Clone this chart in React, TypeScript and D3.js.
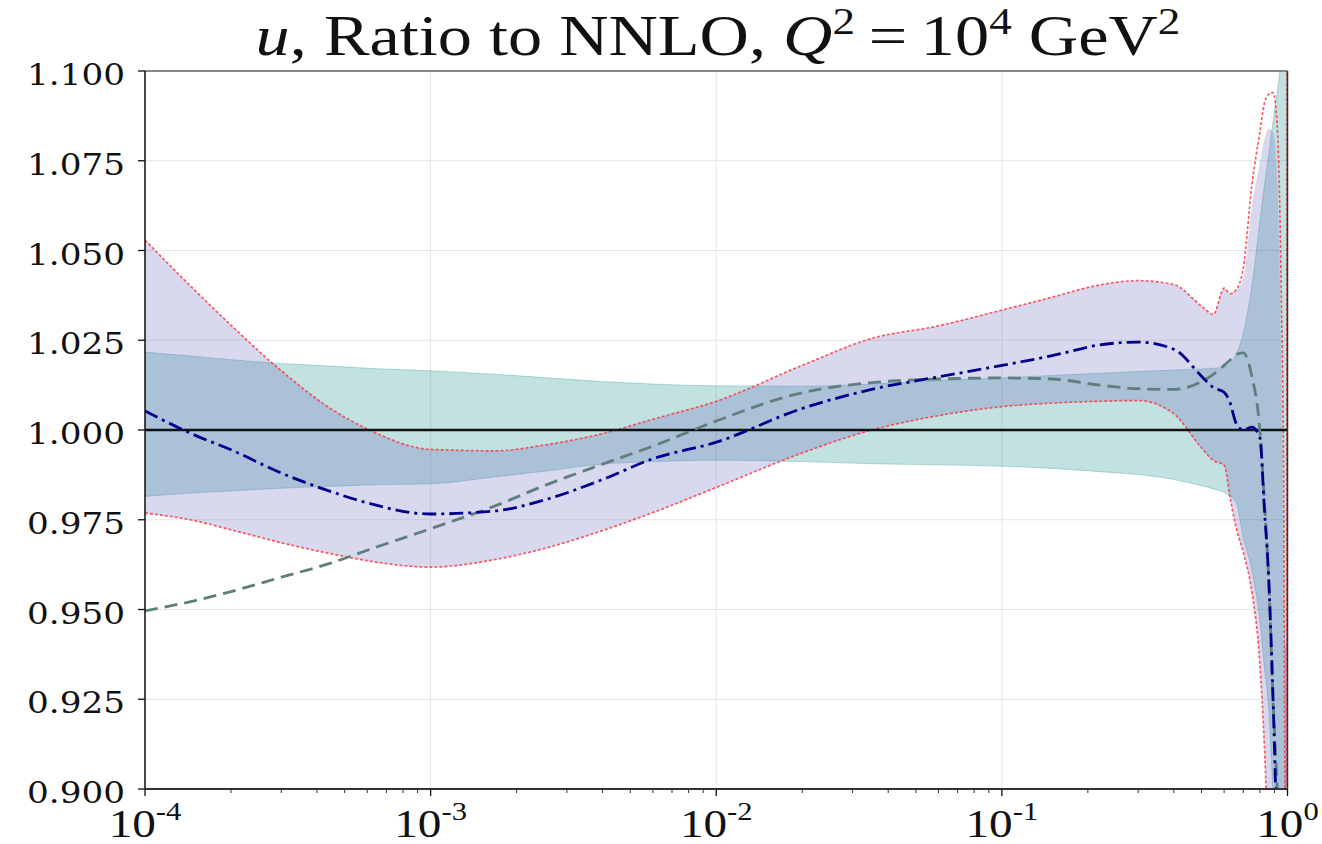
import React from 'react';
import * as d3 from 'd3';

// x grid (momentum fraction)
const xs = [1e-4, 1.5e-4, 2e-4, 3e-4, 4.5e-4, 6e-4, 1e-3, 1.7e-3, 2.5e-3, 4e-3, 6e-3, 1e-2, 2e-2, 3.5e-2, 6e-2, 0.1, 0.15, 0.22, 0.3, 0.4, 0.5, 0.55, 0.6, 0.63, 0.66, 0.7, 0.75, 0.8, 0.83, 0.86, 0.89, 0.92, 0.95, 0.97, 0.98, 0.99, 0.997];

// teal band
const tealHi = [1.0217, 1.0205, 1.0196, 1.0185, 1.0178, 1.0172, 1.0165, 1.0155, 1.0146, 1.0135, 1.0128, 1.0123, 1.0122, 1.0128, 1.0138, 1.0145, 1.0152, 1.0158, 1.0163, 1.0167, 1.017, 1.0172, 1.0175, 1.0185, 1.021, 1.027, 1.04, 1.058, 1.068, 1.077, 1.086, 1.094, 1.104, 1.115, 1.125, 1.15, 1.2];
const tealLo = [0.9815, 0.9825, 0.983, 0.9838, 0.9843, 0.9847, 0.985, 0.987, 0.9885, 0.9905, 0.9912, 0.9916, 0.9912, 0.9906, 0.9903, 0.9899, 0.9893, 0.9884, 0.9876, 0.9862, 0.9845, 0.9836, 0.9826, 0.9815, 0.98, 0.97, 0.961, 0.947, 0.934, 0.922, 0.898, 0.87, 0.85, 0.83, 0.82, 0.8, 0.8];

// lavender band
const lavHi = [1.0529, 1.0388, 1.0292, 1.0165, 1.0058, 1.0003, 0.9946, 0.9942, 0.9958, 0.999, 1.003, 1.008, 1.018, 1.0255, 1.029, 1.0334, 1.037, 1.0404, 1.0416, 1.0405, 1.0345, 1.0322, 1.0395, 1.038, 1.039, 1.042, 1.062, 1.0745, 1.081, 1.084, 1.083, 1.07, 1.02, 0.96, 0.94, 0.94, 0.94];
const lavLo = [0.9769, 0.9747, 0.9722, 0.9686, 0.9655, 0.9636, 0.9618, 0.964, 0.967, 0.972, 0.977, 0.984, 0.9936, 1.0, 1.004, 1.0065, 1.0075, 1.008, 1.0082, 1.0045, 0.995, 0.9915, 0.9902, 0.981, 0.973, 0.966, 0.955, 0.935, 0.912, 0.88, 0.85, 0.82, 0.8, 0.8, 0.8, 0.8, 0.8];

// red dotted envelope
const redHi = [1.0529, 1.0388, 1.0292, 1.0165, 1.0058, 1.0003, 0.9946, 0.9942, 0.9958, 0.999, 1.003, 1.008, 1.018, 1.0255, 1.029, 1.0334, 1.037, 1.0404, 1.0416, 1.0405, 1.0345, 1.0322, 1.0395, 1.038, 1.039, 1.045, 1.068, 1.083, 1.091, 1.0935, 1.094, 1.085, 1.04, 0.98, 0.9, 0.85, 0.85];
const redLo = [0.9769, 0.9747, 0.9722, 0.9686, 0.9655, 0.9636, 0.9618, 0.964, 0.967, 0.972, 0.977, 0.984, 0.9936, 1.0, 1.004, 1.0065, 1.0075, 1.008, 1.0082, 1.0045, 0.995, 0.9915, 0.9902, 0.981, 0.973, 0.966, 0.955, 0.935, 0.912, 0.88, 0.85, 0.82, 0.8, 0.8, 0.8, 0.8, 1.2];

// central curves
const dashDot = [1.0053, 0.9985, 0.9945, 0.988, 0.9828, 0.9797, 0.9766, 0.9775, 0.9805, 0.9862, 0.992, 0.9966, 1.006, 1.0113, 1.0148, 1.018, 1.0207, 1.0237, 1.0245, 1.0225, 1.015, 1.0118, 1.0105, 1.0075, 1.002, 1.0, 1.0008, 0.998, 0.978, 0.958, 0.925, 0.885, 0.85, 0.82, 0.8, 0.8, 0.8];
const dashed = [0.9496, 0.9525, 0.955, 0.959, 0.963, 0.9665, 0.9725, 0.979, 0.9845, 0.9905, 0.9955, 1.0025, 1.0104, 1.0132, 1.0142, 1.0145, 1.0142, 1.0125, 1.0115, 1.0113, 1.0135, 1.0155, 1.018, 1.0195, 1.021, 1.0215, 1.015, 1.0, 0.98, 0.958, 0.925, 0.9, 0.87, 0.85, 0.82, 0.8, 0.8];

const yTicks = [0.9, 0.925, 0.95, 0.975, 1.0, 1.025, 1.05, 1.075, 1.1];
const xTickExps = [-4, -3, -2, -1, 0];

const W = 1322, H = 844;
const L = 145, R = 1287.5, T = 71, B = 789;
const SX = 1.18;

export default function App() {
  const x = d3.scaleLog().domain([1e-4, 1]).range([L, R]);
  const y = d3.scaleLinear().domain([0.9, 1.1]).range([B, T]);

  const band = (lo: number[], hi: number[]) =>
    d3.area<number>()
      .x((d) => x(d))
      .y0((_, i) => y(lo[i]))
      .y1((_, i) => y(hi[i]))
      .curve(d3.curveMonotoneX)(xs) || '';
  const line = (v: number[]) =>
    d3.line<number>()
      .x((d) => x(d))
      .y((_, i) => y(v[i]))
      .curve(d3.curveMonotoneX)(xs) || '';

  const minor: number[] = [];
  for (let e = -4; e < 0; e++) for (let k = 2; k <= 9; k++) minor.push(k * Math.pow(10, e));

  return (
    <svg width={W} height={H} style={{ position: 'absolute', left: 0, top: 0, background: '#fff' }}>
      <defs>
        <clipPath id="plot">
          <rect x={L} y={T} width={R - L} height={B - T} />
        </clipPath>
      </defs>
      <rect x={0} y={0} width={W} height={H} fill="#fff" />
      {/* grid */}
      <g stroke="#e6e6e6" strokeWidth={1}>
        {xTickExps.map((e) => (
          <line key={'gx' + e} x1={x(Math.pow(10, e))} x2={x(Math.pow(10, e))} y1={T} y2={B} />
        ))}
        {yTicks.map((t) => (
          <line key={'gy' + t} x1={L} x2={R} y1={y(t)} y2={y(t)} />
        ))}
      </g>
      <g clipPath="url(#plot)">
        <path d={band(tealLo, tealHi)} fill="rgba(0,128,128,0.24)" stroke="rgba(0,128,128,0.25)" strokeWidth={1} />
        <path d={band(lavLo, lavHi)} fill="rgba(100,100,190,0.25)" />
        <path d={line(redHi)} fill="none" stroke="rgba(255,50,60,0.8)" strokeWidth={1.7} strokeDasharray="3,2" />
        <path d={line(redLo)} fill="none" stroke="rgba(255,50,60,0.8)" strokeWidth={1.7} strokeDasharray="3,2" />
        <line x1={L} x2={R} y1={y(1)} y2={y(1)} stroke="#111" strokeWidth={2.4} />
        <path d={line(dashed)} fill="none" stroke="#5f7f7c" strokeWidth={2.8} strokeDasharray="13,7" />
        <path d={line(dashDot)} fill="none" stroke="#00008b" strokeWidth={2.8} strokeDasharray="14,5,3,5" />
      </g>
      {/* spines */}
      <line x1={L} x2={R} y1={T} y2={T} stroke="#888" strokeWidth={2} />
      <line x1={R} x2={R} y1={T} y2={B} stroke="#333" strokeWidth={1.5} />
      <line x1={L} x2={L} y1={T} y2={B} stroke="#111" strokeWidth={1.5} />
      <line x1={L} x2={R} y1={B} y2={B} stroke="#333" strokeWidth={2} />
      {/* y ticks */}
      {yTicks.map((t) => (
        <g key={'yt' + t}>
          <line x1={L - 7} x2={L} y1={y(t)} y2={y(t)} stroke="#111" strokeWidth={1.3} />
          <text
            transform={`translate(${125},${y(t) + 14}) scale(${SX},1)`}
            textAnchor="end"
            fontFamily="'DejaVu Serif', serif"
            fontSize={29}
            fill="#111"
          >
            {t.toFixed(3)}
          </text>
        </g>
      ))}
      {/* x ticks */}
      {minor.map((m) => (
        <line key={'mx' + m} x1={x(m)} x2={x(m)} y1={B} y2={B + 4} stroke="#333" strokeWidth={1} />
      ))}
      {xTickExps.map((e) => (
        <g key={'xt' + e}>
          <line x1={x(Math.pow(10, e))} x2={x(Math.pow(10, e))} y1={B} y2={B + 7} stroke="#111" strokeWidth={1.3} />
          <text
            transform={`translate(${x(Math.pow(10, e))},${837}) scale(${SX},1)`}
            textAnchor="middle"
            fontFamily="'Liberation Serif', serif"
            fontSize={40}
            fill="#111"
          >
            10<tspan fontSize={26} dy={-17}>{e === 0 ? '0' : '-' + Math.abs(e)}</tspan>
          </text>
        </g>
      ))}
      {/* title */}
      <text
        transform={`translate(${718},${55}) scale(1.22,1)`}
        textAnchor="middle"
        fontFamily="'Liberation Serif', serif"
        fontSize={56}
        fill="#111"
      >
        <tspan fontStyle="italic">u</tspan>
        <tspan>, Ratio to NNLO, </tspan>
        <tspan fontStyle="italic">Q</tspan>
        <tspan fontSize={37} dy={-21}>2</tspan>
        <tspan dy={21}>{'\u2009=\u200910'}</tspan>
        <tspan fontSize={37} dy={-21}>4</tspan>
        <tspan dy={21}> GeV</tspan>
        <tspan fontSize={37} dy={-21}>2</tspan>
      </text>
    </svg>
  );
}
